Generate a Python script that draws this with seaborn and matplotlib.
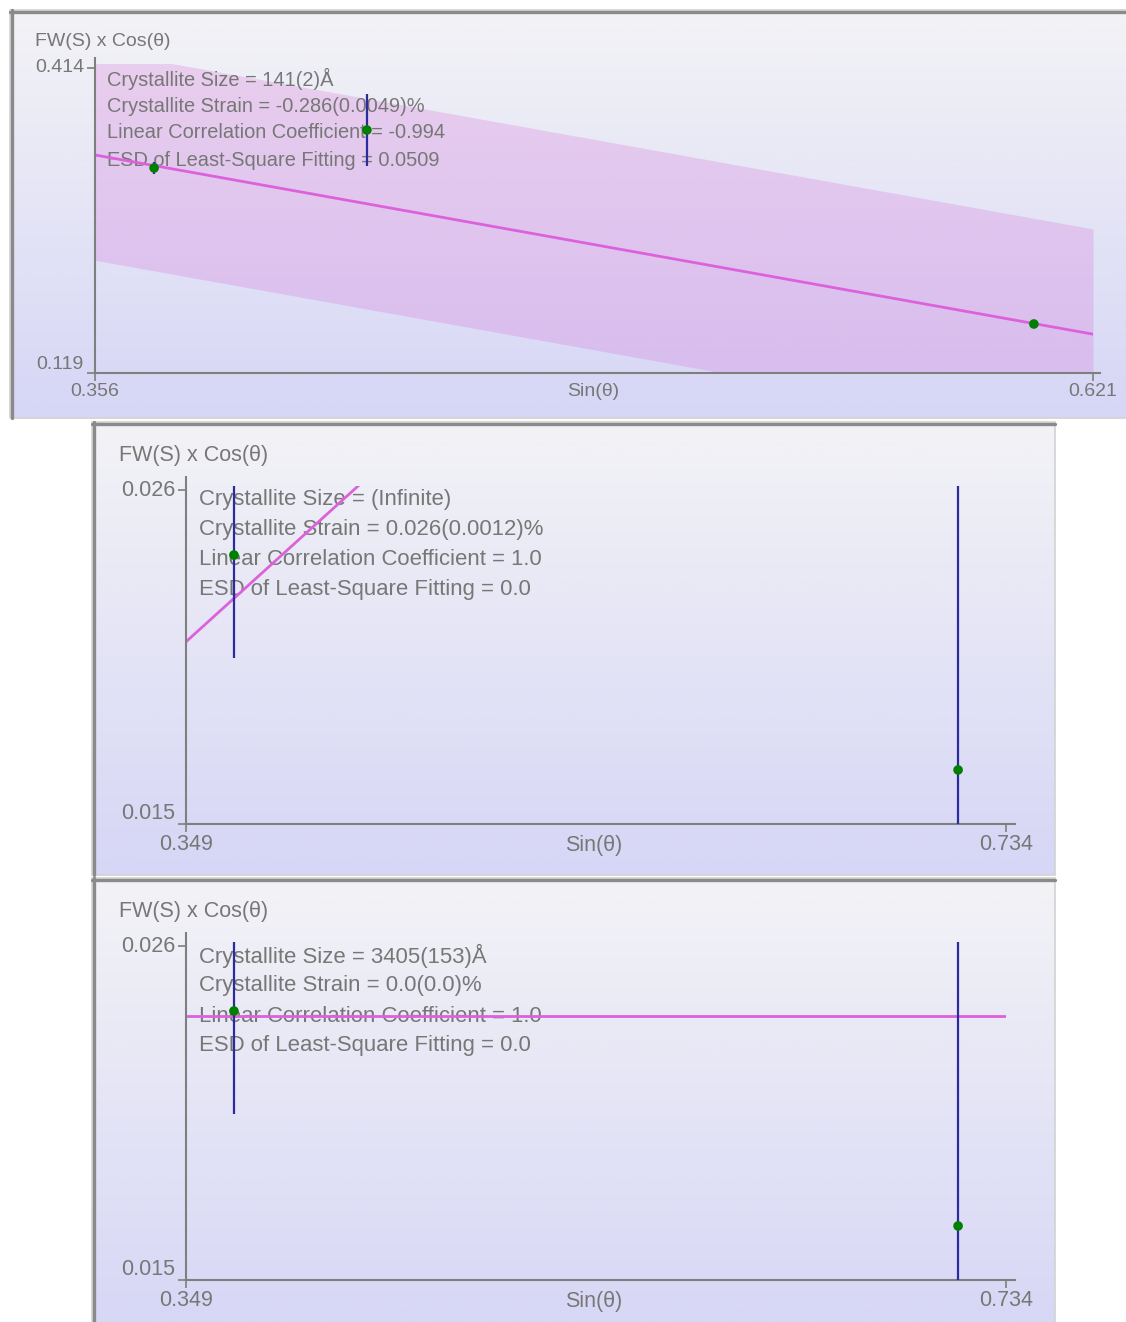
import numpy as np
import matplotlib
matplotlib.use("Agg")
import matplotlib.pyplot as plt
from matplotlib.patches import Rectangle
from matplotlib.lines import Line2D
import seaborn as sns

sns.set_style("white")
plt.rcParams["font.family"] = ["Liberation Sans", "DejaVu Sans"]

# ---- Panel 1: Williamson-Hall plot, three reflections ----
p1_sin = [0.3717, 0.4282, 0.6053]
p1_fw = [0.3173, 0.3540, 0.1664]
p1_err = [0.006, 0.035, 0.0]
p1_fit_a, p1_fit_b = 0.5627, -0.654          # intercept, slope
p1_esd = 0.0509
p1_xticks = [0.356, 0.621]
p1_yticks = [0.119, 0.414]
p1_lines = ["Crystallite Size = 141(2)Å",
            "Crystallite Strain = -0.286(0.0049)%",
            "Linear Correlation Coefficient = -0.994",
            "ESD of Least-Square Fitting = 0.0509"]

# ---- Panel 2: two reflections, size-free fit ----
p2_sin = [0.3715, 0.7115]
p2_fw = [0.02386, 0.01678]
p2_err = [0.0034, 0.012]
p2_fit_a, p2_fit_b = -0.00116, 0.0635
p2_esd = 0.0
p2_xticks = [0.349, 0.734]
p2_yticks = [0.015, 0.026]
p2_lines = ["Crystallite Size = (Infinite)",
            "Crystallite Strain = 0.026(0.0012)%",
            "Linear Correlation Coefficient = 1.0",
            "ESD of Least-Square Fitting = 0.0"]

# ---- Panel 3: two reflections, strain-free fit ----
p3_sin = [0.3715, 0.7115]
p3_fw = [0.02386, 0.01678]
p3_err = [0.0034, 0.012]
p3_fit_a, p3_fit_b = 0.02369, 0.0
p3_esd = 0.0
p3_xticks = [0.349, 0.734]
p3_yticks = [0.015, 0.026]
p3_lines = ["Crystallite Size = 3405(153)Å",
            "Crystallite Strain = 0.0(0.0)%",
            "Linear Correlation Coefficient = 1.0",
            "ESD of Least-Square Fitting = 0.0"]

X_LABEL = "Sin(θ)"
Y_LABEL = "FW(S) x Cos(θ)"

W, H = 1126, 1322
fig = plt.figure(figsize=(W / 100, H / 100), dpi=100)
fig.patch.set_facecolor("white")


def fx(px):
    return px / W


def fy(py):
    return 1 - py / H


TEXT_C = "#777777"
AXIS_C = "#7f7f7f"
FIT_C = "#dc62dc"
PT_C = "#008000"
ERR_C = "#2b2b9c"

grad = np.linspace(0, 1, 256)[:, None]
top_rgb = np.array([243, 243, 246]) / 255
bot_rgb = np.array([214, 214, 246]) / 255
grad_img = top_rgb[None, None, :] * (1 - grad[..., None]) + bot_rgb[None, None, :] * grad[..., None]
grad_img = np.repeat(grad_img, 4, axis=1)


def panel_background(x0, y0, x1, y1):
    bg = fig.add_axes([fx(x0), fy(y1), fx(x1) - fx(x0), fy(y0) - fy(y1)], zorder=0)
    bg.imshow(grad_img, aspect="auto", extent=[0, 1, 0, 1], origin="upper",
              interpolation="bilinear")
    bg.set_xlim(0, 1)
    bg.set_ylim(0, 1)
    bg.axis("off")
    # light outer edge, dark sunken top/left edge
    fig.add_artist(Rectangle((fx(x0), fy(y1)), fx(x1) - fx(x0), fy(y0) - fy(y1),
                             transform=fig.transFigure, fill=False,
                             edgecolor="#d2d2d2", lw=1.2, zorder=1))
    fig.add_artist(Line2D([fx(x0), fx(x1)], [fy(y0 + 1.5)] * 2, transform=fig.transFigure,
                          color="#8a8a8a", lw=2.4, zorder=2))
    fig.add_artist(Line2D([fx(x0 + 1.5)] * 2, [fy(y0), fy(y1)], transform=fig.transFigure,
                          color="#8a8a8a", lw=2.4, zorder=2))


def draw_panel(box, xt, xt_px, yt, yt_px, sin, fw, err, fit_a, fit_b, esd,
               lines, text_pos, line_gap, ylab_pos, xlab_pos, fs):
    left, top, right, bottom = box
    ax = fig.add_axes([fx(left), fy(bottom), fx(right) - fx(left), fy(top) - fy(bottom)],
                      zorder=3)
    ax.set_facecolor("none")
    sx = (xt[1] - xt[0]) / (xt_px[1] - xt_px[0])
    sy = (yt[1] - yt[0]) / (yt_px[0] - yt_px[1])
    ax.set_xlim(xt[0] + (left - xt_px[0]) * sx, xt[0] + (right - xt_px[0]) * sx)
    ax.set_ylim(yt[0] - (bottom - yt_px[0]) * sy, yt[0] + (yt_px[0] - top) * sy)

    clip = Rectangle((xt[0], yt[0]), xt[1] - xt[0], (yt[1] - yt[0]) + 4 * sy,
                     transform=ax.transData, fill=False, visible=False)
    ax.add_patch(clip)

    # statistics block, drawn beneath the marks
    for i, s in enumerate(lines):
        ax.text(fx(text_pos[0]), fy(text_pos[1] + i * line_gap), s,
                transform=fig.transFigure, ha="left", va="center",
                fontsize=fs * 1.03, color=TEXT_C, zorder=0.5)

    fit_x = np.array(xt, dtype=float)
    fit_y = fit_a + fit_b * fit_x
    if esd > 0:
        band = ax.fill_between(fit_x, fit_y - 2 * esd, fit_y + 2 * esd,
                               color="#d565d5", alpha=0.24, lw=0, zorder=0.2)
        band.set_clip_path(clip)

    sns.lineplot(x=fit_x, y=fit_y, ax=ax, color=FIT_C, lw=2.0, zorder=2)
    ax.lines[-1].set_clip_path(clip)

    sin_a, fw_a, err_a = map(np.asarray, (sin, fw, err))
    bars = ax.vlines(sin_a, fw_a - err_a, fw_a + err_a, color=ERR_C, lw=1.6, zorder=3)
    bars.set_clip_path(clip)

    sns.scatterplot(x=sin_a, y=fw_a, ax=ax, color=PT_C, s=48, edgecolor="none",
                    zorder=4, legend=False)

    for side in ("top", "right"):
        ax.spines[side].set_visible(False)
    for side in ("left", "bottom"):
        ax.spines[side].set_color(AXIS_C)
        ax.spines[side].set_linewidth(1.5)

    ax.set_xticks(xt)
    ax.set_xticklabels([f"{v:.3f}" for v in xt])
    ax.set_yticks(yt)
    ax.set_yticklabels([f"{v:.3f}" for v in yt])
    ax.tick_params(axis="both", direction="out", color=AXIS_C, width=1.2,
                   labelcolor=TEXT_C, labelsize=fs, left=True, bottom=True)
    ax.tick_params(axis="y", length=6, pad=2)
    ax.tick_params(axis="x", length=5.5, pad=1.5)
    ylabels = ax.get_yticklabels()
    ylabels[0].set_va("bottom")
    ylabels[1].set_va("center")
    ax.set_xlabel("")
    ax.set_ylabel("")

    fig.text(fx(ylab_pos[0]), fy(ylab_pos[1]), Y_LABEL, ha="left", va="center",
             fontsize=fs, color=TEXT_C, zorder=5)
    fig.text(fx(xlab_pos[0]), fy(xlab_pos[1]), X_LABEL, ha="center", va="center",
             fontsize=fs, color=TEXT_C, zorder=5)
    return ax


# panel frames
panel_background(10, 10, 1140, 418)
panel_background(92, 422, 1055, 875)
panel_background(92, 878, 1055, 1340)

draw_panel((95, 58, 1100, 373), p1_xticks, (95, 1093), p1_yticks, (373, 68),
           p1_sin, p1_fw, p1_err, p1_fit_a, p1_fit_b, p1_esd,
           p1_lines, (107, 79), 27, (35, 41), (593, 392), 14)

draw_panel((186, 477, 1015, 824), p2_xticks, (186, 1006), p2_yticks, (824, 490),
           p2_sin, p2_fw, p2_err, p2_fit_a, p2_fit_b, p2_esd,
           p2_lines, (199, 500), 30, (119, 456), (594, 845), 15.5)

draw_panel((186, 933, 1015, 1280), p3_xticks, (186, 1006), p3_yticks, (1280, 946),
           p3_sin, p3_fw, p3_err, p3_fit_a, p3_fit_b, p3_esd,
           p3_lines, (199, 956), 30, (119, 912), (594, 1301), 15.5)

fig.savefig("out.png", dpi=100, facecolor="white")
